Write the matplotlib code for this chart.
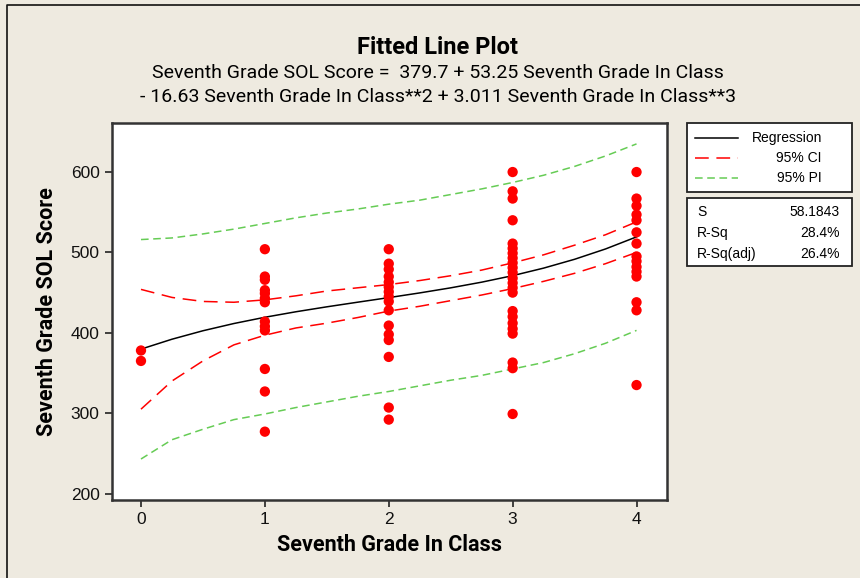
import numpy as np
import matplotlib
matplotlib.use("Agg")
import matplotlib.pyplot as plt
from matplotlib.lines import Line2D
from matplotlib.patches import Rectangle

# scores per number of seventh grade classes taken
class_levels = [0, 1, 2, 3, 4]
scores_0 = [378, 365]
scores_1 = [504, 470, 466, 453, 449, 443, 438, 414, 408, 403, 355, 327, 277]
scores_2 = [504, 486, 479, 470, 463, 457, 451, 445, 439, 428, 409, 398, 391, 370, 307, 292]
scores_3 = [600, 576, 567, 540, 511, 505, 499, 493, 487, 481, 475, 468, 462, 456, 450,
            427, 420, 412, 405, 399, 363, 356, 299]
scores_4 = [600, 567, 558, 547, 540, 525, 511, 495, 489, 482, 476, 470, 438, 428, 335]
scores = [scores_0, scores_1, scores_2, scores_3, scores_4]

# cubic fit coefficients (constant, x, x^2, x^3)
coefs = [379.7, 53.25, -16.63, 3.011]

# confidence / prediction bands
band_x = [0, 0.25, 0.5, 0.75, 1, 1.25, 1.5, 1.75, 2, 2.25, 2.5, 2.75, 3, 3.25, 3.5, 3.75, 4]
ci_upper = [454, 444, 439, 438, 441, 446, 452, 456, 460, 465, 471, 478, 487, 497, 509, 522, 538]
ci_lower = [305, 340, 365, 385, 397, 406, 412, 419, 427, 433, 440, 447, 455, 464, 474, 486, 500]
pi_upper = [516, 518, 523, 529, 536, 543, 549, 554, 560, 565, 572, 579, 587, 596, 607, 620, 635]
pi_lower = [243, 267, 280, 292, 299, 307, 314, 321, 327, 334, 341, 347, 355, 363, 374, 387, 403]

stat_names = ["S", "R-Sq", "R-Sq(adj)"]
stat_values = ["58.1843", "28.4%", "26.4%"]

BG = "#EEEAE0"
W, H = 860, 578

fig = plt.figure(figsize=(W / 100, H / 100), dpi=100, facecolor=BG)
ax = fig.add_axes([112 / W, 1 - 500 / H, (667 - 112) / W, (500 - 123) / H])
ax.set_facecolor("white")

xs = np.array(band_x)
fit = np.polyval(coefs[::-1], xs)
ax.plot(xs, fit, color="black", lw=1.1, zorder=3)
ax.plot(band_x, ci_upper, color="#FF0000", lw=1.1, dashes=(9, 5), zorder=3)
ax.plot(band_x, ci_lower, color="#FF0000", lw=1.1, dashes=(9, 5), zorder=3)
ax.plot(band_x, pi_upper, color="#66CC55", lw=1.1, dashes=(5, 3), zorder=3)
ax.plot(band_x, pi_lower, color="#66CC55", lw=1.1, dashes=(5, 3), zorder=3)

for lvl, vals in zip(class_levels, scores):
    ax.scatter([lvl] * len(vals), vals, s=55, color="#FF0000", edgecolors="none", zorder=4)

ax.set_xlim(-0.234, 4.246)
ax.set_ylim(192, 661)
ax.set_xticks(class_levels)
ax.set_yticks([200, 300, 400, 500, 600])
ax.tick_params(direction="out", length=5, width=1.2, color="#222222",
               labelsize=12.5, labelcolor="#111111", pad=4)
for lab in ax.get_xticklabels() + ax.get_yticklabels():
    lab.set_family("Liberation Sans")
for sp in ax.spines.values():
    sp.set_linewidth(1.8)
    sp.set_color("#333333")

ax.set_xlabel("Seventh Grade In Class", family="Roboto", fontweight="bold",
              fontsize=15.5, labelpad=5)
ax.set_ylabel("Seventh Grade SOL Score", family="Roboto", fontweight="bold",
              fontsize=15.5, labelpad=9)

# titles
cx = 437.5 / W
fig.text(cx, 1 - 47 / H, "Fitted Line Plot", ha="center", va="center",
         family="Roboto", fontweight="bold", fontsize=17)
fig.text(cx, 1 - 73 / H, "Seventh Grade SOL Score =  379.7 + 53.25 Seventh Grade In Class",
         ha="center", va="center", family="Roboto", fontsize=14)
fig.text(cx, 1 - 97 / H, "- 16.63 Seventh Grade In Class**2 + 3.011 Seventh Grade In Class**3",
         ha="center", va="center", family="Roboto", fontsize=14)

# legend box
def px(x, y):
    return x / W, 1 - y / H

for (x0, y0, x1, y1) in [(687, 123, 852, 192), (687, 198, 852, 266)]:
    fig.add_artist(Rectangle(px(x0, y1), (x1 - x0) / W, (y1 - y0) / H, transform=fig.transFigure,
                             facecolor="white", edgecolor="#222222", lw=1.3))

legend_rows = [("Regression", "black", None), ("95% CI", "#FF0000", (9, 5)), ("95% PI", "#66CC55", (5, 3))]
for i, (label, col, dash) in enumerate(legend_rows):
    yy = 138 + 20 * i
    ln = Line2D([695 / W, 738 / W], [1 - yy / H] * 2, transform=fig.transFigure, color=col, lw=1.1)
    if dash:
        ln.set_dashes(dash)
    fig.add_artist(ln)
    fig.text(822 / W, 1 - yy / H, label, ha="right", va="center", family="Liberation Sans", fontsize=10)

for i, (name, val) in enumerate(zip(stat_names, stat_values)):
    yy = 212 + 21 * i
    fig.text(697 / W, 1 - yy / H, name, ha="left", va="center", family="Liberation Sans", fontsize=10)
    fig.text(840 / W, 1 - yy / H, val, ha="right", va="center", family="Liberation Sans", fontsize=10)

# outer frame (left and top edges)
fig.add_artist(Line2D([7 / W, 7 / W, 1.0], [0.0, 1 - 5 / H, 1 - 5 / H], transform=fig.transFigure,
                      color="#111111", lw=1.2))

fig.savefig("out.png", dpi=100, facecolor=BG)
